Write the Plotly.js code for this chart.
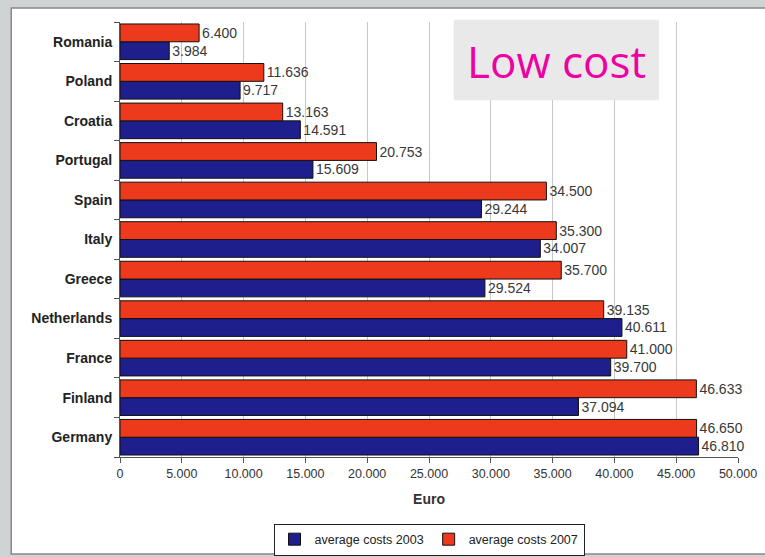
<!DOCTYPE html>
<html><head><meta charset="utf-8">
<script src="https://cdn.plot.ly/plotly-3.0.1.min.js"></script>
<style>html,body{margin:0;padding:0;background:#fff}#chart{width:765px;height:557px}</style>
</head><body><div id="chart"></div>
<script>
var countries = ["Romania","Poland","Croatia","Portugal","Spain","Italy","Greece","Netherlands","France","Finland","Germany"];
var costs2003 = [3984, 9717, 14591, 15609, 29244, 34007, 29524, 40611, 39700, 37094, 46810];
var costs2007 = [6400, 11636, 13163, 20753, 34500, 35300, 35700, 39135, 41000, 46633, 46650];
var xTicks = [0,5000,10000,15000,20000,25000,30000,35000,40000,45000,50000];

var labelFont = {family:"Liberation Sans, Arial, sans-serif", size:14, color:"#383838"};
var traces = [
  {type:"bar", orientation:"h", name:"average costs 2003", y:countries, x:costs2003,
   marker:{color:"#1e1e8c", line:{color:"#111", width:1}},
   text:costs2003, texttemplate:"%{x:,.0f}", textposition:"outside", constraintext:"none",
   cliponaxis:false, textfont:labelFont},
  {type:"bar", orientation:"h", name:"average costs 2007", y:countries, x:costs2007,
   marker:{color:"#ee3a1c", line:{color:"#111", width:1}},
   text:costs2007, texttemplate:"%{x:,.0f}", textposition:"outside", constraintext:"none",
   cliponaxis:false, textfont:labelFont}
];
var layout = {
  width:765, height:557,
  separators:",.",
  paper_bgcolor:"#cfd3d3", plot_bgcolor:"rgba(0,0,0,0)",
  margin:{l:120, r:27, t:22, b:100, autoexpand:false},
  barmode:"group", bargap:0.1, bargroupgap:0,
  font:{family:"Liberation Sans, Arial, sans-serif", color:"#333"},
  xaxis:{range:[0,50000], tickvals:xTicks, tickformat:",.0f", showgrid:true, gridcolor:"#c8c8c8", gridwidth:1,
    zeroline:false, showline:true, linecolor:"#555", ticks:"outside", ticklen:5, tickcolor:"#555",
    tickfont:{size:12.5, color:"#333"},
    title:{text:"Euro", font:{size:14, color:"#333", weight:"bold"}, standoff:14}},
  yaxis:{type:"category", categoryorder:"array", categoryarray:countries.slice().reverse(),
    showline:true, linecolor:"#555", ticks:"outside", ticklen:5, tickcolor:"#555", tickson:"boundaries",
    showgrid:false, tickfont:{size:14, color:"#222", weight:"bold"}, ticklabelstandoff:4},
  showlegend:true,
  legend:{orientation:"h", x:0.5, xanchor:"center", y:-0.153, yanchor:"top", bordercolor:"#222", borderwidth:1,
    bgcolor:"#fff", font:{size:12.5, color:"#222"}, itemwidth:30, tracegroupgap:0},
  shapes:[
    {type:"rect", xref:"paper", yref:"paper", layer:"below", x0:-0.176, x1:1.06, y0:-0.223, y1:1.032,
     fillcolor:"#fff", line:{color:"#888", width:1.5}},
    {type:"rect", xref:"x", yref:"paper", layer:"above", x0:27000, x1:43600, y0:0.82, y1:1.005,
     fillcolor:"#e9e9ea", line:{width:0}}
  ],
  annotations:[
    {xref:"x", yref:"paper", x:35300, y:0.91, text:"Low cost", showarrow:false,
     font:{family:"Open Sans, sans-serif", size:44, color:"#f000a0"}, xanchor:"center", yanchor:"middle"}
  ]
};
Plotly.newPlot("chart", traces, layout, {displayModeBar:false, staticPlot:true});
</script></body></html>
